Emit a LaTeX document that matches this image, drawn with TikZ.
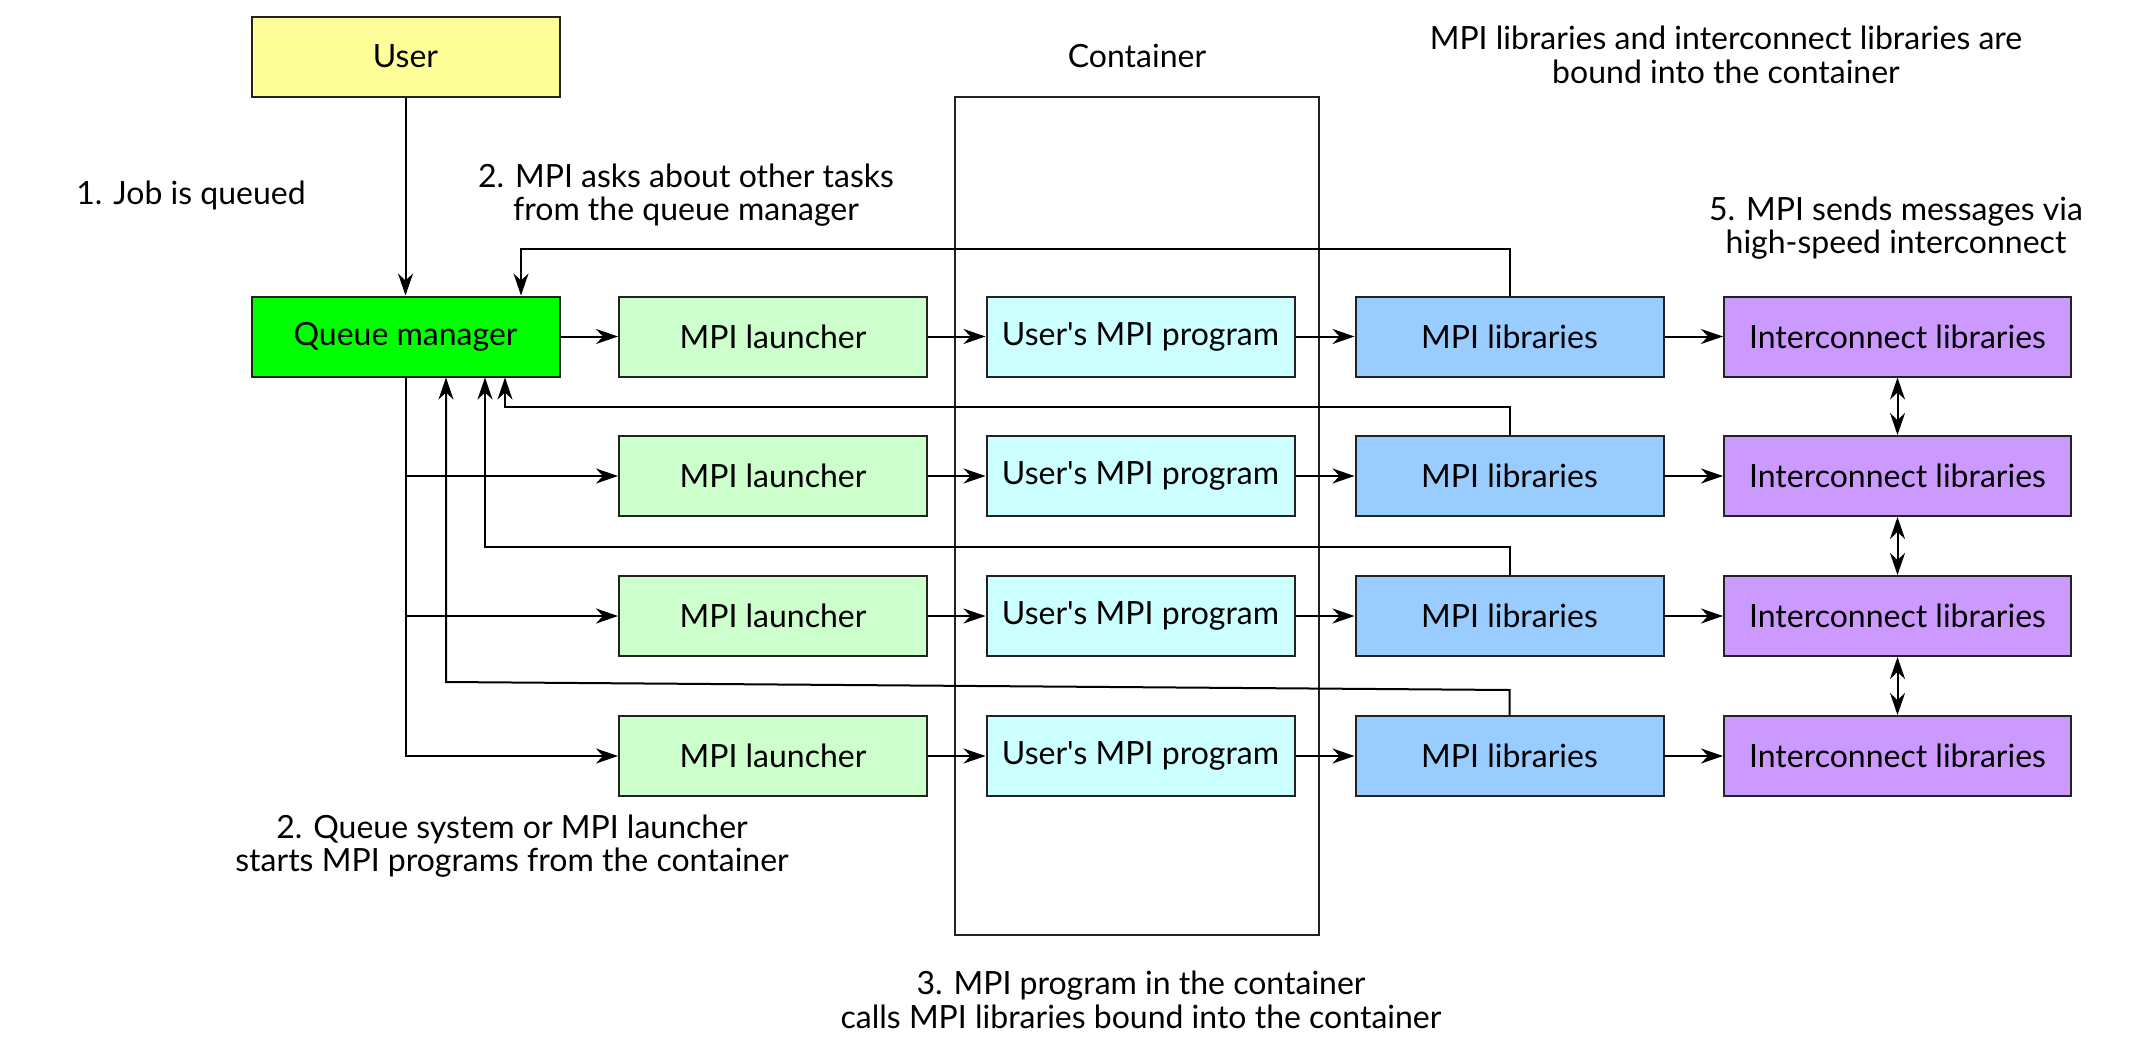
\documentclass[tikz,border=0pt]{standalone}
\usepackage{fontspec}
\setmainfont{Lato}
\usetikzlibrary{arrows.meta}
\definecolor{cuser}{HTML}{FFFF99}
\definecolor{cqm}{HTML}{00FF00}
\definecolor{claunch}{HTML}{CCFFCC}
\definecolor{cprog}{HTML}{CCFFFF}
\definecolor{clib}{HTML}{99CCFF}
\definecolor{cic}{HTML}{CC99FF}
\definecolor{cborder}{HTML}{222222}
\newcommand{\straightapos}{{\XeTeXglyph\XeTeXcharglyph"0027\relax}}
\tikzset{
  box/.style={draw=cborder, line width=2pt, minimum width=308pt, minimum height=80pt, inner sep=0pt, font=\fontsize{32}{34}\selectfont},
  icbox/.style={box, minimum width=347pt},
  conn/.style={line width=2pt, -{Stealth[length=22pt,width=15pt,inset=7pt]}},
  dconn/.style={line width=2pt, {Stealth[length=22pt,width=15pt,inset=7pt]}-{Stealth[length=22pt,width=15pt,inset=7pt]}},
  lbl/.style={align=center, inner sep=0pt, font=\fontsize{32}{33.5}\selectfont}
}
\begin{document}
\begin{tikzpicture}[x=1pt,y=-1pt]
\useasboundingbox (0,0) rectangle (2134,1060);
% container
\node[draw=cborder, line width=2pt, minimum width=364pt, minimum height=838pt, inner sep=0pt] (cont) at (1137,516) {};
\node[lbl] (tc) at (1137,56) {Container};
% boxes
\node[box, fill=cuser] (user) at (405.5,56.5) {User};
\node[box, fill=cqm] (qm) at (405.5,336.5) {Queue manager};
\foreach \i/\y in {1/336.5,2/476,3/616,4/756}{
  \node[box, fill=claunch] (l\i) at (773,\y) {MPI launcher};
  \node[box, fill=cprog] (p\i) at (1140.5,\y) {User\straightapos s MPI program};
  \node[box, fill=clib] (b\i) at (1509.5,\y) {MPI libraries};
  \node[icbox, fill=cic] (i\i) at (1897.5,\y) {Interconnect libraries};
}
% main arrows
\draw[conn] (user) -- (qm);
\draw[conn] (qm) -- (l1);
\foreach \i in {1,2,3,4}{
  \draw[conn] (l\i) -- (p\i);
  \draw[conn] (p\i) -- (b\i);
  \draw[conn] (b\i) -- (i\i);
}
\draw[dconn] (i1) -- (i2);
\draw[dconn] (i2) -- (i3);
\draw[dconn] (i3) -- (i4);
% launch lines
\draw[conn] (qm.south) |- (l4);
\draw[conn] (qm.south |- l2) -- (l2);
\draw[conn] (qm.south |- l3) -- (l3);
% feedback lines
\coordinate (f1) at (521,249);
\coordinate (f2) at (505,407);
\coordinate (f3) at (485,547);
\coordinate (f4a) at (1509.5,690);
\coordinate (f4) at (446,682);
\draw[conn] (b1.north) |- (f1) -- (f1 |- qm.north);
\draw[conn] (b2.north) |- (f2) -- (f2 |- qm.south);
\draw[conn] (b3.north) |- (f3) -- (f3 |- qm.south);
\draw[conn] (b4.north) -- (f4a) -- (f4) -- (f4 |- qm.south);
% labels
\node[lbl] (t1) at (191,195) {1. Job is queued};
\node[lbl] (t2) at (686,195) {2. MPI asks about other tasks\\from the queue manager};
\node[lbl] (t4) at (1726,55) {MPI libraries and interconnect libraries are\\bound into the container};
\node[lbl] (t5) at (1896,228) {5. MPI sends messages via\\high-speed interconnect};
\node[lbl] (t6) at (512,846) {2. Queue system or MPI launcher\\starts MPI programs from the container};
\node[lbl] (t3) at (1141,1000) {3. MPI program in the container\\calls MPI libraries bound into the container};
\end{tikzpicture}
\end{document}
